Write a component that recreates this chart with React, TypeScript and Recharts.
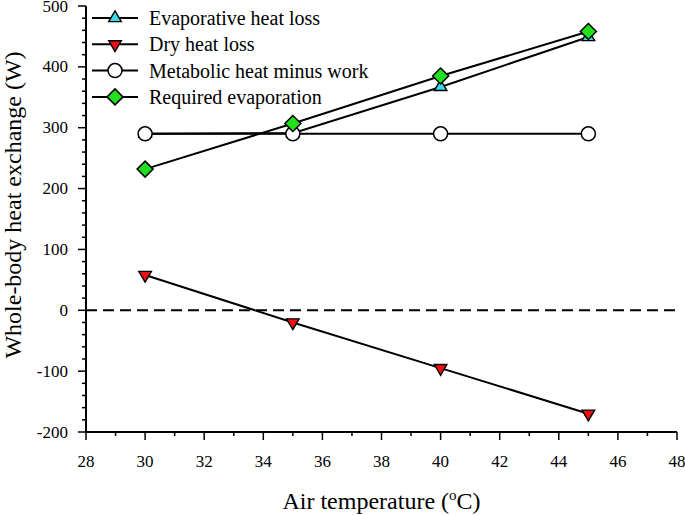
import React from 'react'
import {
  LineChart, Line, XAxis, YAxis, ReferenceLine, Legend, Label
} from 'recharts'

// air temperature (°C)
const temps = [30, 35, 40, 45]
const evaporative = [290, 291, 367, 449]
const dryHeat = [58, -20, -95, -170]
const metabolic = [290, 290, 290, 290]
const required = [232, 307, 385, 458]

const xTicks = [28, 29, 30, 31, 32, 33, 34, 35, 36, 37, 38, 39, 40, 41, 42, 43, 44, 45, 46, 47, 48]
const yTicks = [
  -200, -180, -160, -140, -120, -100, -80, -60, -40, -20, 0, 20, 40, 60, 80, 100, 120, 140,
  160, 180, 200, 220, 240, 260, 280, 300, 320, 340, 360, 380, 400, 420, 440, 460, 480, 500,
]

const data = temps.map((t, i) => ({
  t,
  evap: evaporative[i],
  dry: dryHeat[i],
  met: metabolic[i],
  req: required[i],
}))

const FONT = '"Liberation Serif", "Times New Roman", serif'
const CYAN = '#3cd8ea'
const RED = '#ec1010'
const GREEN = '#22e01e'

// triangles sized to hide fully behind the circle markers
const TriUp = ({ cx, cy }: { cx: number; cy: number }) => (
  <path d={`M${cx},${cy - 7.2} L${cx + 6.3},${cy + 3.6} L${cx - 6.3},${cy + 3.6} Z`} fill={CYAN} stroke="#000" strokeWidth={1.4} />
)
const TriDown = ({ cx, cy }: { cx: number; cy: number }) => (
  <path d={`M${cx - 6.3},${cy - 3.6} L${cx + 6.3},${cy - 3.6} L${cx},${cy + 7.2} Z`} fill={RED} stroke="#000" strokeWidth={1.4} />
)
const Circ = ({ cx, cy }: { cx: number; cy: number }) => (
  <circle cx={cx} cy={cy} r={7} fill="#fff" stroke="#000" strokeWidth={1.5} />
)
const Diam = ({ cx, cy }: { cx: number; cy: number }) => (
  <path d={`M${cx},${cy - 8} L${cx + 8},${cy} L${cx},${cy + 8} L${cx - 8},${cy} Z`} fill={GREEN} stroke="#000" strokeWidth={1.5} />
)

const legendItems = [
  { name: 'Evaporative heat loss', Marker: TriUp },
  { name: 'Dry heat loss', Marker: TriDown },
  { name: 'Metabolic heat minus work', Marker: Circ },
  { name: 'Required evaporation', Marker: Diam },
]

const LegendBox = () => (
  <svg width={300} height={112}>
    {legendItems.map(({ name, Marker }, i) => {
      const y = 18 + i * 26.3
      return (
        <g key={name}>
          <line x1={6} x2={52} y1={y} y2={y} stroke="#000" strokeWidth={2} />
          <Marker cx={29} cy={y} />
          <text x={63} y={y + 7} fontSize={20} fontFamily={FONT} fill="#000">{name}</text>
        </g>
      )
    })}
  </svg>
)

const LeftTick = (p: any) => {
  const v = p.payload.value
  const major = v % 100 === 0
  return (
    <g>
      <line x1={p.x - (major ? 8 : 4)} x2={p.x} y1={p.y} y2={p.y} stroke="#000" strokeWidth={1.5} />
      {major && (
        <text x={p.x - 18} y={p.y + 5.5} textAnchor="end" fontSize={17} fontFamily={FONT} fill="#000">{v}</text>
      )}
    </g>
  )
}

const RightTick = (p: any) => {
  const major = p.payload.value % 100 === 0
  return <line x1={p.x - (major ? 8 : 4)} x2={p.x} y1={p.y} y2={p.y} stroke="#000" strokeWidth={1.5} />
}

const BottomTick = (p: any) => {
  const v = p.payload.value
  const major = v % 2 === 0
  return (
    <g>
      <line x1={p.x} x2={p.x} y1={p.y} y2={p.y + (major ? 8 : 4)} stroke="#000" strokeWidth={1.5} />
      {major && (
        <text x={p.x} y={p.y + 35} textAnchor="middle" fontSize={17} fontFamily={FONT} fill="#000">{v}</text>
      )}
    </g>
  )
}

const XTitle = (props: any) => {
  const vb = props.viewBox
  return (
    <text x={vb.x + vb.width / 2} y={vb.y + 77} textAnchor="middle" fontSize={24} fontFamily={FONT} fill="#000">
      Air temperature (<tspan fontSize={15} dy={-9}>o</tspan><tspan dy={9}>C)</tspan>
    </text>
  )
}

const YTitle = () => (
  <text x={21} y={205} transform="rotate(-90 21 205)" textAnchor="middle" fontSize={24} fontFamily={FONT} fill="#000">
    Whole-body heat exchange (W)
  </text>
)

export default function App() {
  return (
    <div style={{ position: 'absolute', left: 0, top: 0, width: 685, height: 515, background: '#fff' }}>
      <LineChart width={685} height={515} data={data} margin={{ top: 6, right: 8, left: 0, bottom: 0 }}>
        <XAxis
          xAxisId="main" dataKey="t" type="number" domain={[28, 48]} ticks={xTicks} interval={0}
          height={83} tickSize={0} tickMargin={0} tickLine={false} tick={<BottomTick />}
          axisLine={{ stroke: '#000', strokeWidth: 2 }} allowDataOverflow
        >
          <Label content={<XTitle />} />
        </XAxis>
        <XAxis
          xAxisId="top" orientation="top" dataKey="t" type="number" domain={[28, 48]} height={0}
          tick={false} tickLine={false} axisLine={{ stroke: '#000', strokeWidth: 2 }}
        />
        <YAxis
          yAxisId="main" type="number" domain={[-200, 500]} ticks={yTicks} interval={0} width={86}
          tickSize={0} tickMargin={0} tickLine={false} tick={<LeftTick />}
          axisLine={{ stroke: '#000', strokeWidth: 2 }} allowDataOverflow
        >
          <Label content={<YTitle />} />
        </YAxis>
        <YAxis
          yAxisId="right" orientation="right" type="number" domain={[-200, 500]} ticks={yTicks} interval={0}
          width={0} tickSize={0} tickMargin={0} tickLine={false} tick={<RightTick />}
          axisLine={{ stroke: '#000', strokeWidth: 2 }}
        />
        <ReferenceLine xAxisId="main" yAxisId="main" y={0} stroke="#000" strokeWidth={2} strokeDasharray="11 6" />
        <Legend
          layout="horizontal" verticalAlign="middle" align="center"
          wrapperStyle={{ top: 0, left: 86, width: 300, height: 112 }}
          content={<LegendBox />}
        />
        <Line xAxisId="main" yAxisId="main" dataKey="evap" name="Evaporative heat loss" stroke="#000" strokeWidth={2}
          isAnimationActive={false} dot={(p: any) => <TriUp key={p.index} cx={p.cx} cy={p.cy} />} activeDot={false} />
        <Line xAxisId="main" yAxisId="main" dataKey="dry" name="Dry heat loss" stroke="#000" strokeWidth={2}
          isAnimationActive={false} dot={(p: any) => <TriDown key={p.index} cx={p.cx} cy={p.cy} />} activeDot={false} />
        <Line xAxisId="main" yAxisId="main" dataKey="met" name="Metabolic heat minus work" stroke="#000" strokeWidth={2}
          isAnimationActive={false} dot={(p: any) => <Circ key={p.index} cx={p.cx} cy={p.cy} />} activeDot={false} />
        <Line xAxisId="main" yAxisId="main" dataKey="req" name="Required evaporation" stroke="#000" strokeWidth={2}
          isAnimationActive={false} dot={(p: any) => <Diam key={p.index} cx={p.cx} cy={p.cy} />} activeDot={false} />
      </LineChart>
    </div>
  )
}
